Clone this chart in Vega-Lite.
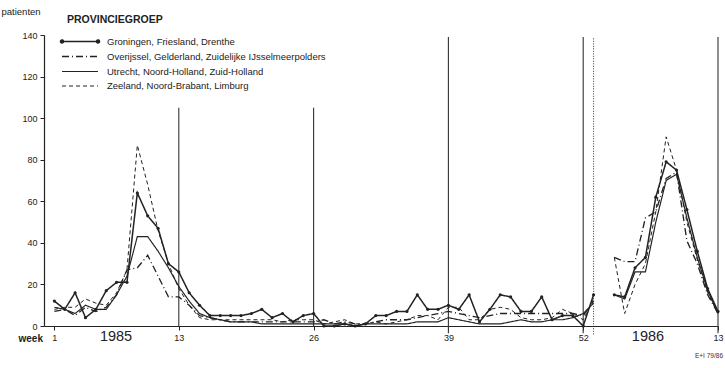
{
  "$schema": "https://vega.github.io/schema/vega-lite/v6.json",
  "width": 674,
  "height": 291,
  "autosize": {"type": "none"},
  "padding": {"left": 44, "top": 35, "right": 7, "bottom": 42},
  "background": "white",
  "title": {"text": "E+I 79/86", "orient": "bottom", "anchor": "end", "fontSize": 6.5, "fontWeight": "normal", "color": "#333", "offset": 10},
  "config": {
    "view": {"stroke": null},
    "font": "Liberation Sans",
    "axis": {"grid": false, "domainColor": "#222", "tickColor": "#222", "labelColor": "#222", "titleColor": "#222", "domainWidth": 1.2, "tickWidth": 1}
  },
  "datasets": {
    "weekly": [
      {"pos": 1, "seg": "1985", "G": 12, "O": 7, "U": 9, "Z": 8},
      {"pos": 2, "seg": "1985", "G": 8, "O": 8, "U": 8, "Z": 9},
      {"pos": 3, "seg": "1985", "G": 16, "O": 5, "U": 6, "Z": 9},
      {"pos": 4, "seg": "1985", "G": 4, "O": 9, "U": 10, "Z": 13},
      {"pos": 5, "seg": "1985", "G": 8, "O": 7, "U": 8, "Z": 11},
      {"pos": 6, "seg": "1985", "G": 17, "O": 9, "U": 8, "Z": 10},
      {"pos": 7, "seg": "1985", "G": 21, "O": 15, "U": 15, "Z": 16},
      {"pos": 8, "seg": "1985", "G": 21, "O": 27, "U": 24, "Z": 27},
      {"pos": 9, "seg": "1985", "G": 64, "O": 28, "U": 43, "Z": 87},
      {"pos": 10, "seg": "1985", "G": 53, "O": 34, "U": 43, "Z": 68},
      {"pos": 11, "seg": "1985", "G": 47, "O": 24, "U": 36, "Z": 46},
      {"pos": 12, "seg": "1985", "G": 30, "O": 14, "U": 28, "Z": 30},
      {"pos": 13, "seg": "1985", "G": 26, "O": 14, "U": 19, "Z": 18},
      {"pos": 14, "seg": "1985", "G": 16, "O": 10, "U": 12, "Z": 10},
      {"pos": 15, "seg": "1985", "G": 10, "O": 5, "U": 6, "Z": 4},
      {"pos": 16, "seg": "1985", "G": 5, "O": 4, "U": 4, "Z": 3},
      {"pos": 17, "seg": "1985", "G": 5, "O": 3, "U": 3, "Z": 3},
      {"pos": 18, "seg": "1985", "G": 5, "O": 2, "U": 2, "Z": 3},
      {"pos": 19, "seg": "1985", "G": 5, "O": 2, "U": 2, "Z": 3},
      {"pos": 20, "seg": "1985", "G": 6, "O": 2, "U": 2, "Z": 3},
      {"pos": 21, "seg": "1985", "G": 8, "O": 2, "U": 1, "Z": 3},
      {"pos": 22, "seg": "1985", "G": 4, "O": 2, "U": 1, "Z": 3},
      {"pos": 23, "seg": "1985", "G": 6, "O": 2, "U": 1, "Z": 2},
      {"pos": 24, "seg": "1985", "G": 2, "O": 2, "U": 1, "Z": 3},
      {"pos": 25, "seg": "1985", "G": 5, "O": 2, "U": 1, "Z": 3},
      {"pos": 26, "seg": "1985", "G": 6, "O": 2, "U": 1, "Z": 3},
      {"pos": 27, "seg": "1985", "G": 0, "O": 3, "U": 1, "Z": 1},
      {"pos": 28, "seg": "1985", "G": 0, "O": 1, "U": 1, "Z": 2},
      {"pos": 29, "seg": "1985", "G": 1, "O": 2, "U": 1, "Z": 3},
      {"pos": 30, "seg": "1985", "G": 0, "O": 1, "U": 0, "Z": 1},
      {"pos": 31, "seg": "1985", "G": 1, "O": 1, "U": 1, "Z": 1},
      {"pos": 32, "seg": "1985", "G": 5, "O": 2, "U": 1, "Z": 2},
      {"pos": 33, "seg": "1985", "G": 5, "O": 3, "U": 1, "Z": 1},
      {"pos": 34, "seg": "1985", "G": 7, "O": 3, "U": 1, "Z": 2},
      {"pos": 35, "seg": "1985", "G": 7, "O": 3, "U": 1, "Z": 3},
      {"pos": 36, "seg": "1985", "G": 15, "O": 4, "U": 2, "Z": 5},
      {"pos": 37, "seg": "1985", "G": 8, "O": 5, "U": 2, "Z": 5},
      {"pos": 38, "seg": "1985", "G": 8, "O": 6, "U": 2, "Z": 3},
      {"pos": 39, "seg": "1985", "G": 10, "O": 7, "U": 4, "Z": 9},
      {"pos": 40, "seg": "1985", "G": 8, "O": 6, "U": 3, "Z": 9},
      {"pos": 41, "seg": "1985", "G": 15, "O": 5, "U": 2, "Z": 3},
      {"pos": 42, "seg": "1985", "G": 2, "O": 4, "U": 1, "Z": 3},
      {"pos": 43, "seg": "1985", "G": 8, "O": 5, "U": 1, "Z": 8},
      {"pos": 44, "seg": "1985", "G": 15, "O": 6, "U": 1, "Z": 9},
      {"pos": 45, "seg": "1985", "G": 14, "O": 6, "U": 2, "Z": 8},
      {"pos": 46, "seg": "1985", "G": 7, "O": 6, "U": 3, "Z": 4},
      {"pos": 47, "seg": "1985", "G": 7, "O": 6, "U": 2, "Z": 3},
      {"pos": 48, "seg": "1985", "G": 14, "O": 6, "U": 2, "Z": 3},
      {"pos": 49, "seg": "1985", "G": 3, "O": 6, "U": 3, "Z": 4},
      {"pos": 50, "seg": "1985", "G": 5, "O": 6, "U": 3, "Z": 8},
      {"pos": 51, "seg": "1985", "G": 5, "O": 6, "U": 4, "Z": 6},
      {"pos": 52, "seg": "1985", "G": 0, "O": 5, "U": 6, "Z": 3},
      {"pos": 53, "seg": "1985", "G": 15, "O": 12, "U": 11, "Z": 13},
      {"pos": 55, "seg": "1986", "G": 15, "O": 33, "U": 15, "Z": 33},
      {"pos": 56, "seg": "1986", "G": 14, "O": 31, "U": 13, "Z": 6},
      {"pos": 57, "seg": "1986", "G": 28, "O": 31, "U": 26, "Z": 20},
      {"pos": 58, "seg": "1986", "G": 33, "O": 52, "U": 26, "Z": 30},
      {"pos": 59, "seg": "1986", "G": 62, "O": 55, "U": 50, "Z": 55},
      {"pos": 60, "seg": "1986", "G": 79, "O": 71, "U": 70, "Z": 91},
      {"pos": 61, "seg": "1986", "G": 75, "O": 74, "U": 73, "Z": 75},
      {"pos": 62, "seg": "1986", "G": 56, "O": 41, "U": 52, "Z": 50},
      {"pos": 63, "seg": "1986", "G": 36, "O": 30, "U": 33, "Z": 32},
      {"pos": 64, "seg": "1986", "G": 18, "O": 15, "U": 17, "Z": 16},
      {"pos": 65, "seg": "1986", "G": 7, "O": 6, "U": 6, "Z": 6}
    ],
    "dividers": [{"w": 13}, {"w": 26}, {"w": 39}, {"w": 52}, {"w": 65}],
    "yearbreak": [{"w": 53}]
  },
  "layer": [
    {
      "data": {"name": "dividers"},
      "transform": [{"filter": "datum.w < 30"}],
      "mark": {"type": "rule", "color": "#333", "strokeWidth": 1.1},
      "encoding": {
        "x": {"field": "w", "type": "quantitative"},
        "y": {"datum": 0},
        "y2": {"datum": 105}
      }
    },
    {
      "data": {"name": "dividers"},
      "transform": [{"filter": "datum.w > 30"}],
      "mark": {"type": "rule", "color": "#333", "strokeWidth": 1.1},
      "encoding": {
        "x": {"field": "w", "type": "quantitative"},
        "y": {"datum": -3.5},
        "y2": {"datum": 139}
      }
    },
    {
      "data": {"name": "yearbreak"},
      "mark": {"type": "rule", "color": "#333", "strokeWidth": 1, "strokeDash": [1, 1.5]},
      "encoding": {
        "x": {"field": "w", "type": "quantitative"},
        "y": {"datum": -4},
        "y2": {"datum": 139}
      }
    },
    {
      "data": {"name": "weekly"},
      "transform": [{"fold": ["G", "O", "U", "Z"], "as": ["groep", "patienten"]}],
      "mark": {"type": "line", "color": "#222"},
      "encoding": {
        "x": {
          "field": "pos",
          "type": "quantitative",
          "scale": {"domain": [0, 65], "nice": false, "zero": false},
          "axis": {
            "values": [1, 6.9, 13, 26, 39, 52, 58.2, 65],
            "labelExpr": "datum.value == 65 ? '13' : datum.value == 6.9 ? '1985' : datum.value == 58.2 ? '1986' : datum.label",
            "labelFontSize": {"condition": {"test": "datum.value == 6.9 || datum.value == 58.2", "value": 14.5}, "value": 9},
            "tickSize": {"condition": {"test": "datum.value == 6.9 || datum.value == 58.2", "value": 0}, "value": 4},
            "labelFlush": false,
            "labelOverlap": false,
            "labelPadding": 3,
            "title": "week",
            "titleFontSize": 10,
            "titleFontWeight": "bold",
            "titleAlign": "left",
            "titleBaseline": "alphabetic",
            "titleX": -26,
            "titleY": 15
          }
        },
        "y": {
          "field": "patienten",
          "type": "quantitative",
          "scale": {"domain": [0, 140], "nice": false},
          "axis": {
            "values": [0, 10, 20, 30, 40, 50, 60, 70, 80, 90, 100, 110, 120, 130, 140],
            "labelExpr": "datum.value % 20 == 0 ? datum.label : ''",
            "labelFontSize": 9,
            "labelPadding": 3,
            "tickSize": 4,
            "title": "patienten",
            "titleAngle": 0,
            "titleFontSize": 9.5,
            "titleFontWeight": "normal",
            "titleAlign": "left",
            "titleBaseline": "alphabetic",
            "titleX": -43,
            "titleY": -21
          }
        },
        "detail": {"field": "seg"},
        "strokeDash": {
          "field": "groep",
          "type": "nominal",
          "scale": {"domain": ["G", "O", "U", "Z"], "range": [[1, 0], [7, 3, 1, 3], [1, 0], [4, 3]]},
          "legend": {
            "orient": "none",
            "legendX": 23,
            "legendY": -20,
            "padding": 0,
            "title": "PROVINCIEGROEP",
            "titleFontSize": 10.5,
            "titleFontWeight": "bold",
            "titleColor": "#222",
            "titlePadding": 9,
            "labelExpr": "datum.value == 'G' ? 'Groningen, Friesland, Drenthe' : datum.value == 'O' ? 'Overijssel, Gelderland, Zuidelijke IJsselmeerpolders' : datum.value == 'U' ? 'Utrecht, Noord-Holland, Zuid-Holland' : 'Zeeland, Noord-Brabant, Limburg'",
            "labelFontSize": 9.5,
            "labelColor": "#222",
            "labelLimit": 400,
            "labelOffset": 26,
            "rowPadding": 3,
            "symbolType": {"expr": "datum.value == 'G' ? 'M-2,0L4,0M-2.25,0a0.25,0.25 0 1,0 0.5,0a0.25,0.25 0 1,0 -0.5,0M3.75,0a0.25,0.25 0 1,0 0.5,0a0.25,0.25 0 1,0 -0.5,0' : 'M-2,0L4,0'"},
            "symbolSize": 144,
            "symbolStrokeColor": "#222",
            "symbolFillColor": "#222"
          }
        },
        "strokeWidth": {
          "field": "groep",
          "type": "nominal",
          "scale": {"domain": ["G", "O", "U", "Z"], "range": [1.5, 1, 0.7, 1.1]}
        }
      }
    },
    {
      "data": {"name": "weekly"},
      "transform": [{"fold": ["G"], "as": ["groep", "patienten"]}],
      "mark": {"type": "point", "filled": true, "color": "#222", "size": 10, "opacity": 1},
      "encoding": {
        "x": {"field": "pos", "type": "quantitative"},
        "y": {"field": "patienten", "type": "quantitative"}
      }
    }
  ]
}
